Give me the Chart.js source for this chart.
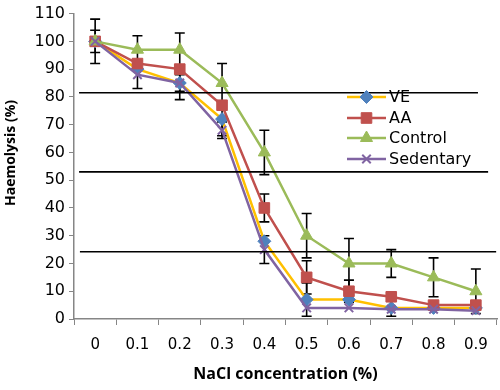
<!DOCTYPE html>
<html>
<head>
<meta charset="utf-8">
<script src="https://cdn.jsdelivr.net/npm/chart.js@4/dist/chart.umd.min.js"></script>
<style>
  html, body { margin: 0; padding: 0; background: #fff; }
  #wrap { width: 500px; height: 390px; }
</style>
</head>
<body>
<div id="wrap"><canvas id="chart" width="500" height="390"></canvas></div>
<script>
// NaCl concentration (%) categories
const categories = ['0', '0.1', '0.2', '0.3', '0.4', '0.5', '0.6', '0.7', '0.8', '0.9']
const yTicks = [0, 10, 20, 30, 40, 50, 60, 70, 80, 90, 100, 110]

// haemolysis (%) per group
const ve = [100, 90, 85, 72, 28, 7, 7, 4, 4, 4]
const aa = [100, 92, 90, 77, 40, 15, 10, 8, 5, 5]
const control = [100, 97, 97, 85, 60, 30, 20, 20, 15, 10]
const sedentary = [100, 88, 85, 68, 25, 4, 4, 3.5, 3.5, 3]

// error bars (+/-), 0 = none shown
const errVe = [0, 0, 3, 6, 0, 6, 0, 3, 0, 0]
const errAa = [4, 0, 0, 0, 5, 6, 4, 0, 0, 0]
const errControl = [8, 5, 6, 7, 8, 8, 9, 5, 7, 8]
const errSedentary = [0, 5, 6, 3, 5, 0, 0, 0, 0, 0]

// horizontal reference lines: level and start/end as fraction of the x range
const refLevels = [81.5, 53, 24.2]
const refStart = [0.012, 0.012, 0.014]
const refEnd = [0.955, 0.979, 0.998]

const errors = [errVe, errAa, errControl, errSedentary]

const series = [
  { label: 'VE', data: ve, borderColor: '#FFC000', pointBackgroundColor: '#4F81BD', pointBorderColor: '#4F81BD',
    pointStyle: 'rectRot', pointRadius: 6.5, order: 4 },
  { label: 'AA', data: aa, borderColor: '#C0504D', pointBackgroundColor: '#C0504D', pointBorderColor: '#C0504D',
    pointStyle: 'rect', pointRadius: 7.5, order: 3 },
  { label: 'Control', data: control, borderColor: '#9BBB59', pointBackgroundColor: '#9BBB59', pointBorderColor: '#9BBB59',
    pointStyle: 'triangle', pointRadius: 7, order: 2 },
  { label: 'Sedentary', data: sedentary, borderColor: '#8064A2', pointBackgroundColor: '#8064A2', pointBorderColor: '#8064A2',
    pointStyle: 'crossRot', pointRadius: 6, pointBorderWidth: 2, order: 1 },
]

const datasets = series.map((s) => Object.assign({
  type: 'line',
  borderWidth: 2.5,
  pointBorderWidth: 1,
  tension: 0,
  xAxisID: 'x',
}, s))

refLevels.forEach((lvl, i) => {
  datasets.push({
    type: 'line',
    label: 'ref' + i,
    data: [{ x: refStart[i], y: lvl }, { x: refEnd[i], y: lvl }],
    xAxisID: 'x2',
    borderColor: '#000',
    borderWidth: 1.6,
    pointRadius: 0,
    order: 0,
  })
})

const errorBars = {
  id: 'errorBars',
  beforeDatasetsDraw(chart) {
    const ctx = chart.ctx
    const y = chart.scales.y
    ctx.save()
    ctx.strokeStyle = '#000'
    ctx.lineWidth = 1.6
    errors.forEach((errs, i) => {
      const meta = chart.getDatasetMeta(i)
      meta.data.forEach((pt, j) => {
        const e = errs[j]
        if (!e) return
        const v = series[i].data[j]
        const top = y.getPixelForValue(v + e)
        const bot = y.getPixelForValue(v - e)
        ctx.beginPath()
        ctx.moveTo(pt.x, top); ctx.lineTo(pt.x, bot)
        ctx.moveTo(pt.x - 5, top); ctx.lineTo(pt.x + 5, top)
        ctx.moveTo(pt.x - 5, bot); ctx.lineTo(pt.x + 5, bot)
        ctx.stroke()
      })
    })
    ctx.restore()
  }
}

// legend drawn inside the plot, like the original; y title placed by hand
const insideLegend = {
  id: 'insideLegend',
  afterDraw(chart) {
    const ctx = chart.ctx
    const x0 = 347, x1 = 386, tx = 389
    const rows = [97, 118, 138, 159]
    ctx.save()
    series.forEach((s, i) => {
      const yy = rows[i]
      ctx.strokeStyle = s.borderColor
      ctx.lineWidth = 2.5
      ctx.beginPath()
      ctx.moveTo(x0, yy); ctx.lineTo(x1, yy)
      ctx.stroke()
      ctx.fillStyle = s.pointBackgroundColor
      ctx.strokeStyle = s.pointBorderColor
      ctx.lineWidth = s.pointBorderWidth || 1
      Chart.helpers.drawPoint(ctx, {
        pointStyle: s.pointStyle,
        radius: s.pointRadius,
        rotation: 0,
        borderWidth: s.pointBorderWidth || 1,
      }, (x0 + x1) / 2, yy)
      ctx.fillStyle = '#000'
      ctx.font = '16px "DejaVu Sans"'
      ctx.textBaseline = 'middle'
      ctx.textAlign = 'left'
      ctx.fillText(s.label, tx, yy + 1)
    })
    ctx.translate(11, 153)
    ctx.rotate(-Math.PI / 2)
    ctx.font = 'bold 14px "Open Sans"'
    ctx.textAlign = 'center'
    ctx.textBaseline = 'middle'
    ctx.fillText('Haemolysis (%)', 0, 0)
    ctx.restore()
  }
}

new Chart(document.getElementById('chart'), {
  data: { labels: categories, datasets: datasets },
  options: {
    responsive: false,
    animation: false,
    layout: { autoPadding: false, padding: { left: 0, right: 3, top: 12, bottom: 0 } },
    plugins: {
      legend: { display: false },
      tooltip: { enabled: false },
    },
    scales: {
      x: {
        type: 'category',
        offset: true,
        grid: { display: true, drawOnChartArea: false, drawTicks: true, tickLength: 6, color: '#868686', offset: true },
        border: { color: '#868686', width: 1.5 },
        ticks: { color: '#000', font: { family: 'DejaVu Sans', size: 15 }, padding: 11, maxRotation: 0 },
        title: { display: true, text: 'NaCl concentration (%)', color: '#000',
          font: { family: 'Open Sans', size: 16, weight: 'bold' }, padding: { top: 4, bottom: 6 } },
        afterFit(scale) {
          scale.height = 71
          scale.paddingLeft = 0
          scale.paddingRight = 0
        },
      },
      x2: {
        type: 'linear',
        min: 0,
        max: 1,
        display: false,
        ticks: { display: false },
      },
      y: {
        min: 0,
        max: 110,
        afterBuildTicks(scale) { scale.ticks = yTicks.map((v) => ({ value: v })) },
        grid: { display: true, drawOnChartArea: false, drawTicks: true, tickLength: 5, color: '#868686' },
        border: { color: '#868686', width: 1.5 },
        ticks: { color: '#000', font: { family: 'DejaVu Sans', size: 16 }, padding: 4 },
        afterFit(scale) { scale.width = 74 },
      },
    },
  },
  plugins: [errorBars, insideLegend],
})
</script>
</body>
</html>
